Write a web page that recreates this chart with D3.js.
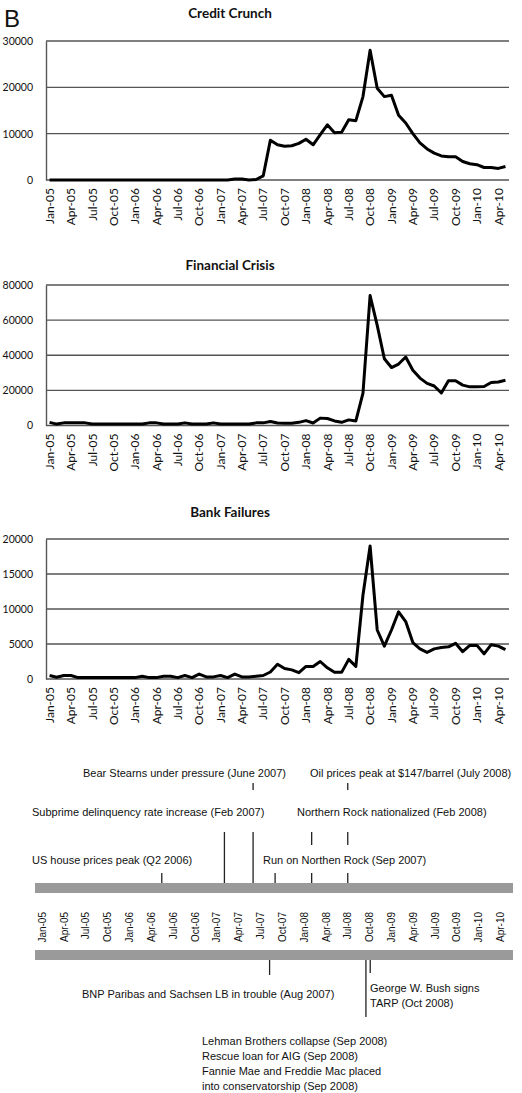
<!DOCTYPE html>
<html>
<head>
<meta charset="utf-8">
<script src="https://cdn.jsdelivr.net/npm/d3@7"></script>
<style>
  html, body { margin: 0; padding: 0; background: #fff; }
  svg { display: block; }
</style>
</head>
<body>
<svg id="chart" width="522" height="1093"></svg>
<script>
// Monthly counts, Jan-05 .. May-10 (65 months)
const creditCrunch = [
  0, 0, 0, 0, 0, 0, 0, 0, 0, 0, 0, 0, 0, 0, 0, 0, 0, 0, 0, 0, 0, 0, 0, 0, 0, 0,
  200, 200, 0, 100, 900, 8600, 7600, 7300, 7400, 7900, 8800, 7600, 9800, 11900,
  10200, 10300, 13000, 12800, 18000, 28000, 19800, 18000, 18300, 14000, 12300,
  10000, 8000, 6700, 5800, 5200, 5000, 5000, 4000, 3500, 3300, 2700, 2700, 2500, 2900
];
const financialCrisis = [
  1800, 800, 1500, 1500, 1500, 1500, 800, 800, 800, 800, 800, 800, 800, 800,
  1500, 1500, 800, 800, 800, 1500, 800, 800, 800, 1500, 800, 800, 800, 800, 800,
  1500, 1500, 2300, 1400, 1300, 1300, 1800, 2800, 1400, 4200, 4000, 2600, 1800,
  3200, 2600, 18500, 74000, 57000, 38000, 33000, 35000, 39000, 31500, 27000,
  24000, 22500, 18500, 25500, 25500, 23000, 22000, 22000, 22200, 24500, 24800, 25800
];
const bankFailures = [
  500, 250, 500, 500, 200, 200, 200, 200, 200, 200, 200, 200, 200,
  400, 200, 200, 400, 400, 200, 500, 200, 700, 300, 300, 500, 200, 700, 300, 300,
  400, 500, 1000, 2100, 1500, 1300, 900, 1800, 1800, 2500, 1600, 950, 950, 2800,
  1800, 12000, 19000, 7000, 4700, 7000, 9600, 8200, 5200, 4300, 3800, 4300, 4500,
  4600, 5100, 3900, 4800, 4800, 3600, 4900, 4700, 4200
];

// Month categories and quarterly tick labels
const months = d3.timeMonth.range(new Date(2005, 0, 1), new Date(2010, 5, 1));
const tickLabels = [
  "Jan-05", "Apr-05", "Jul-05", "Oct-05", "Jan-06", "Apr-06", "Jul-06", "Oct-06",
  "Jan-07", "Apr-07", "Jul-07", "Oct-07", "Jan-08", "Apr-08", "Jul-08", "Oct-08",
  "Jan-09", "Apr-09", "Jul-09", "Oct-09", "Jan-10", "Apr-10"
];

const creditTicks = [0, 10000, 20000, 30000];
const crisisTicks = [0, 20000, 40000, 60000, 80000];
const failureTicks = [0, 5000, 10000, 15000, 20000];

// Timeline events
const eventsAbove = [
  { label: "Bear Stearns under pressure (June 2007)", date: new Date(2007, 5, 1), row: 0, tx: 83 },
  { label: "Oil prices peak at $147/barrel (July 2008)", date: new Date(2008, 6, 1), row: 0, tx: 310 },
  { label: "Subprime delinquency rate increase (Feb 2007)", date: new Date(2007, 1, 1), row: 1, tx: 32 },
  { label: "Northern Rock nationalized (Feb 2008)", date: new Date(2008, 1, 1), row: 1, tx: 297 },
  { label: "US house prices peak (Q2 2006)", date: new Date(2006, 4, 15), row: 2, tx: 32 },
  { label: "Run on Northen Rock (Sep 2007)", date: new Date(2007, 8, 1), row: 2, tx: 263 }
];
const eventsBelow = [
  { lines: ["BNP Paribas and Sachsen LB in trouble (Aug 2007)"], date: new Date(2007, 7, 9), len: 15, tx: 82, ty: 998 },
  { lines: ["George W. Bush signs", "TARP (Oct 2008)"], date: new Date(2008, 9, 3), len: 13, tx: 370, ty: 991.5 },
  { lines: ["Lehman Brothers collapse (Sep 2008)", "Rescue loan for AIG (Sep 2008)",
            "Fannie Mae and Freddie Mac placed", "into conservatorship (Sep 2008)"],
    date: new Date(2008, 8, 15), len: 57, tx: 202, ty: 1045 }
];

const svg = d3.select("#chart");
const chartFont = "Lato, 'Open Sans', sans-serif";
const tlFont = "'Liberation Sans', Arial, sans-serif";

svg.append("text")
  .attr("x", 4).attr("y", 27)
  .attr("font-family", tlFont).attr("font-size", 24)
  .attr("fill", "#111")
  .text("B");

const x = d3.scaleBand().domain(d3.range(months.length)).range([46, 509]);
const cx = i => x(i) + x.bandwidth() / 2;

function drawPanel(cfg) {
  const g = svg.append("g");
  const y = d3.scaleLinear().domain([0, cfg.ticks[cfg.ticks.length - 1]]).range([cfg.bottom, cfg.top]);

  g.append("text")
    .attr("x", 230).attr("y", cfg.titleY)
    .attr("text-anchor", "middle")
    .attr("font-family", chartFont).attr("font-weight", 700).attr("font-size", 13.5)
    .attr("fill", "#111")
    .text(cfg.title);

  // horizontal gridlines
  g.selectAll("line.grid").data(cfg.ticks).join("line")
    .attr("class", "grid")
    .attr("x1", 46).attr("x2", 509)
    .attr("y1", d => y(d)).attr("y2", d => y(d))
    .attr("stroke", "#555").attr("stroke-width", 1.4);

  // value axis
  const yAxis = d3.axisLeft(y).tickValues(cfg.ticks).tickSize(0).tickPadding(13).tickFormat(d3.format("d"));
  const ya = g.append("g").attr("transform", "translate(46,0)").call(yAxis);
  ya.select(".domain").attr("stroke", "#555").attr("stroke-width", 1.4);
  ya.selectAll("text")
    .attr("font-family", chartFont).attr("font-size", 10.5).attr("fill", "#111");

  // category axis
  const xAxis = d3.axisBottom(x)
    .tickValues(d3.range(0, months.length, 3))
    .tickSize(0)
    .tickFormat((d, k) => tickLabels[k]);
  const xa = g.append("g").attr("transform", `translate(0,${cfg.bottom})`).call(xAxis);
  xa.select(".domain").remove();
  xa.selectAll("text")
    .attr("font-family", chartFont).attr("font-size", 12).attr("fill", "#111")
    .attr("transform", "rotate(-90)")
    .attr("text-anchor", "end")
    .attr("x", -8).attr("y", 0).attr("dy", "0.35em");

  const line = d3.line().x((d, i) => cx(i)).y(d => y(d));
  g.append("path")
    .datum(cfg.values)
    .attr("d", line)
    .attr("fill", "none")
    .attr("stroke", "#000")
    .attr("stroke-width", 3)
    .attr("stroke-linejoin", "round");
}

drawPanel({ title: "Credit Crunch", values: creditCrunch, ticks: creditTicks, top: 41, bottom: 180, titleY: 18 });
drawPanel({ title: "Financial Crisis", values: financialCrisis, ticks: crisisTicks, top: 285, bottom: 425.5, titleY: 270 });
drawPanel({ title: "Bank Failures", values: bankFailures, ticks: failureTicks, top: 539, bottom: 679, titleY: 517 });

// ---- timeline ----
const t = d3.scaleTime().domain([new Date(2005, 0, 1), new Date(2010, 3, 1)]).range([42.5, 500.5]);
const tl = svg.append("g");
const barTop = 883, barBottom = 950, barH = 10;
const rowBoxes = [
  { top: 763, bottom: 783, base: 776.5 },
  { top: 790, bottom: 832, base: 816 },
  { top: 845, bottom: 873, base: 864 }
];

// marker lines above the top bar
tl.selectAll("line.up").data(eventsAbove).join("line")
  .attr("class", "up")
  .attr("x1", d => t(d.date)).attr("x2", d => t(d.date))
  .attr("y1", d => rowBoxes[d.row].bottom).attr("y2", barTop)
  .attr("stroke", "#222").attr("stroke-width", 1.3);

// label boxes hide the lines that pass behind them
const upLabels = tl.selectAll("g.uplabel").data(eventsAbove).join("g").attr("class", "uplabel");
upLabels.append("text")
  .attr("x", d => d.tx).attr("y", d => rowBoxes[d.row].base)
  .attr("font-family", tlFont).attr("font-size", 11).attr("fill", "#111")
  .text(d => d.label)
  .each(function (d) { d.w = this.getComputedTextLength(); });
upLabels.insert("rect", "text")
  .attr("x", d => d.tx - 3).attr("width", d => d.w + 6)
  .attr("y", d => rowBoxes[d.row].top).attr("height", d => rowBoxes[d.row].bottom - rowBoxes[d.row].top)
  .attr("fill", "#fff");

// grey bars
tl.append("rect").attr("x", 35).attr("width", 478).attr("y", barTop).attr("height", barH).attr("fill", "#9a9a9a");
tl.append("rect").attr("x", 35).attr("width", 478).attr("y", barBottom).attr("height", barH).attr("fill", "#9a9a9a");

// month labels between bars
tl.selectAll("text.month").data(tickLabels).join("text")
  .attr("class", "month")
  .attr("transform", (d, k) => `translate(${t(months[k * 3])},912) rotate(-90)`)
  .attr("text-anchor", "end").attr("dy", "0.35em")
  .attr("font-family", tlFont).attr("font-size", 10).attr("fill", "#111")
  .text(d => d);

// marker lines below the bottom bar
tl.selectAll("line.down").data(eventsBelow).join("line")
  .attr("class", "down")
  .attr("x1", d => t(d.date)).attr("x2", d => t(d.date))
  .attr("y1", barBottom + barH).attr("y2", d => barBottom + barH + d.len)
  .attr("stroke", "#222").attr("stroke-width", 1.3);

eventsBelow.forEach(ev => {
  const txt = tl.append("text")
    .attr("font-family", tlFont).attr("font-size", 11).attr("fill", "#111");
  ev.lines.forEach((s, k) => {
    txt.append("tspan").attr("x", ev.tx).attr("y", ev.ty + k * 15.1).text(s);
  });
});
</script>
</body>
</html>
